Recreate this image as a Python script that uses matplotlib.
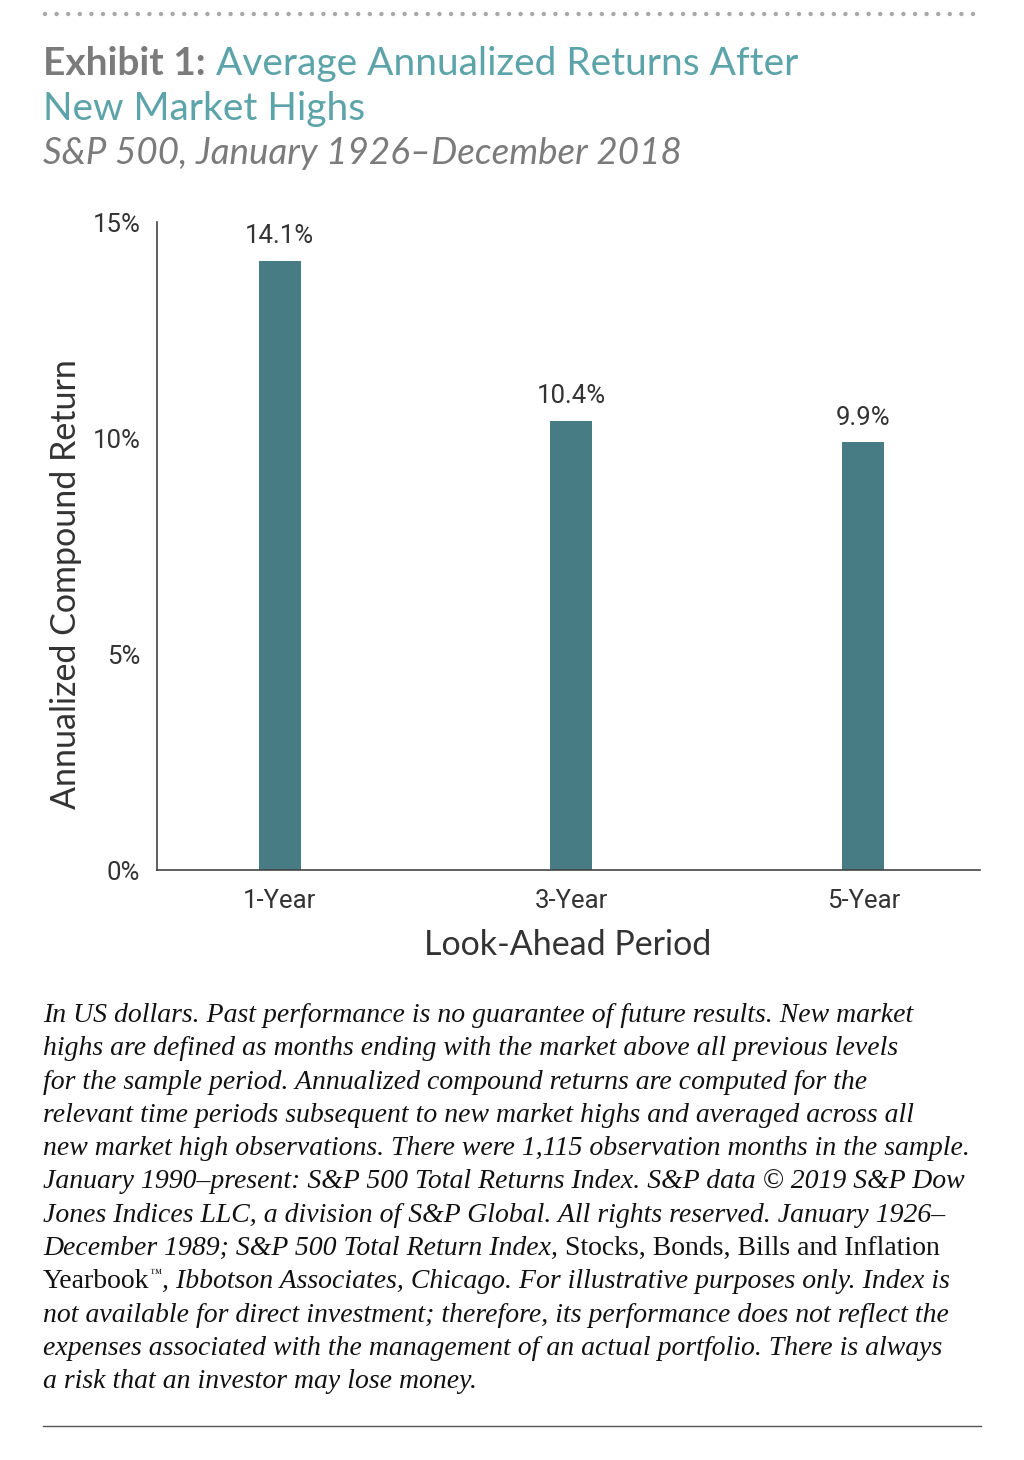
import matplotlib
matplotlib.use("Agg")
import matplotlib.pyplot as plt
from matplotlib.lines import Line2D
from matplotlib import font_manager as fm

# ---------------- data ----------------
periods = ["1-Year", "3-Year", "5-Year"]
returns = [14.1, 10.4, 9.9]
value_labels = ["14.1%", "10.4%", "9.9%"]
yticks = [0, 5, 10, 15]
ytick_labels = ["0%", "5%", "10%", "15%"]

title_bold = "Exhibit 1:"
title_rest_1 = " Average Annualized Returns After"
title_line2 = "New Market Highs"
subtitle = "S&P 500, January 1926\u2013December 2018"
ylabel = "Annualized Compound Return"
xlabel = "Look-Ahead Period"

footnote_lines = [
    [("In US dollars. Past performance is no guarantee of future results. New market", "italic")],
    [("highs are defined as months ending with the market above all previous levels", "italic")],
    [("for the sample period. Annualized compound returns are computed for the", "italic")],
    [("relevant time periods subsequent to new market highs and averaged across all", "italic")],
    [("new market high observations. There were 1,115 observation months in the sample.", "italic")],
    [("January 1990\u2013present: S&P 500 Total Returns Index. S&P data \u00a9 2019 S&P Dow", "italic")],
    [("Jones Indices LLC, a division of S&P Global. All rights reserved. January 1926\u2013", "italic")],
    [("December 1989; S&P 500 Total Return Index,", "italic"), (" Stocks, Bonds, Bills and Inflation", "normal")],
    [("Yearbook", "normal"), ("\u2122", "sup"), (", Ibbotson Associates, Chicago. For illustrative purposes only. Index is", "italic")],
    [("not available for direct investment; therefore, its performance does not reflect the", "italic")],
    [("expenses associated with the management of an actual portfolio. There is always", "italic")],
    [("a risk that an investor may lose money.", "italic")],
]

# ---------------- style ----------------
available = {f.name for f in fm.fontManager.ttflist}
def pick(*names):
    for n in names:
        if n in available:
            return n
    return "DejaVu Sans"

SANS = pick("Lato", "Noto Sans", "Open Sans", "DejaVu Sans")
NARROW = pick("Liberation Sans Narrow", "Roboto", "Noto Sans", "DejaVu Sans")
SERIF = pick("Liberation Serif", "DejaVu Serif")

GRAY_TITLE = "#7b7b7b"
TEAL = "#5ca4a9"
BAR = "#477c84"
DARK = "#333333"
SPINE = "#444444"

W, H = 1024, 1460
fig = plt.figure(figsize=(W / 100, H / 100), dpi=100)
fig.patch.set_facecolor("white")

def fx(px):
    return px / W
def fy(py):
    return 1 - py / H

# top dotted rule
fig.add_artist(Line2D([fx(45), fx(980)], [fy(14), fy(14)], color="#a8a8a8",
                      linestyle=(0, (0.01, 2.6)), linewidth=3.2,
                      solid_capstyle="round", dash_capstyle="round"))
# bottom rule
fig.add_artist(Line2D([fx(43), fx(981)], [fy(1426), fy(1426)], color="#555555",
                      linewidth=1.0))

# ---------------- axes ----------------
ax = fig.add_axes([fx(157), fy(870), fx(980) - fx(157), fy(222) - fy(870)])
x = list(range(len(periods)))
ax.bar(x, returns, width=0.144, color=BAR, zorder=2)
ax.set_xlim(-0.42, 2.40)
ax.set_ylim(0, 15)
ax.set_yticks(yticks)
ax.set_yticklabels(ytick_labels)
ax.set_xticks(x)
ax.set_xticklabels(periods)
for sp in ["top", "right"]:
    ax.spines[sp].set_visible(False)
for sp in ["left", "bottom"]:
    ax.spines[sp].set_color(SPINE)
    ax.spines[sp].set_linewidth(1.2)
ax.tick_params(axis="both", length=0, colors=DARK, labelsize=18.5)
ax.tick_params(axis="y", pad=12)
ax.tick_params(axis="x", pad=14)
for lab in ax.get_xticklabels() + ax.get_yticklabels():
    lab.set_fontfamily(NARROW)
    lab.set_color(DARK)

for xi, v, lab in zip(x, returns, value_labels):
    ax.annotate(lab, (xi, v), xytext=(0, 9), textcoords="offset points",
                ha="center", va="bottom", fontsize=18.5, family=NARROW, color=DARK)

fig.text(fx(66), fy(584), ylabel, rotation=90, ha="center", va="center",
         fontsize=24.5, family=SANS, color=DARK)
fig.text(fx(568), fy(945), xlabel, ha="center", va="center",
         fontsize=24.5, family=SANS, color=DARK)

# ---------------- titles ----------------
TS = 28
fig.canvas.draw()
renderer = fig.canvas.get_renderer()

t1 = fig.text(fx(43), fy(75), title_bold, ha="left", va="baseline",
              fontsize=TS, family=SANS, weight="bold", color=GRAY_TITLE)
w1 = t1.get_window_extent(renderer).width
fig.text(fx(43 + w1), fy(75), title_rest_1, ha="left", va="baseline",
         fontsize=TS, family=SANS, color=TEAL)
fig.text(fx(43), fy(120), title_line2, ha="left", va="baseline",
         fontsize=TS, family=SANS, color=TEAL)
fig.text(fx(43), fy(164), subtitle, ha="left", va="baseline",
         fontsize=26.5, family=SANS, style="italic", color=GRAY_TITLE)

# ---------------- footnote ----------------
FN_SIZE = 20
y0 = 1022
dy = 33.3
for i, segs in enumerate(footnote_lines):
    xpx = 43
    base = y0 + i * dy
    for txt, st in segs:
        size = FN_SIZE
        style = st
        ypx = base
        if st == "sup":
            size = FN_SIZE * 0.45
            style = "normal"
            ypx = base - 11
        t = fig.text(fx(xpx), fy(ypx), txt, ha="left", va="baseline",
                     fontsize=size, family=SERIF, style=style, color="#111111")
        xpx += t.get_window_extent(renderer).width

fig.savefig("out.png", dpi=100, facecolor="white")
